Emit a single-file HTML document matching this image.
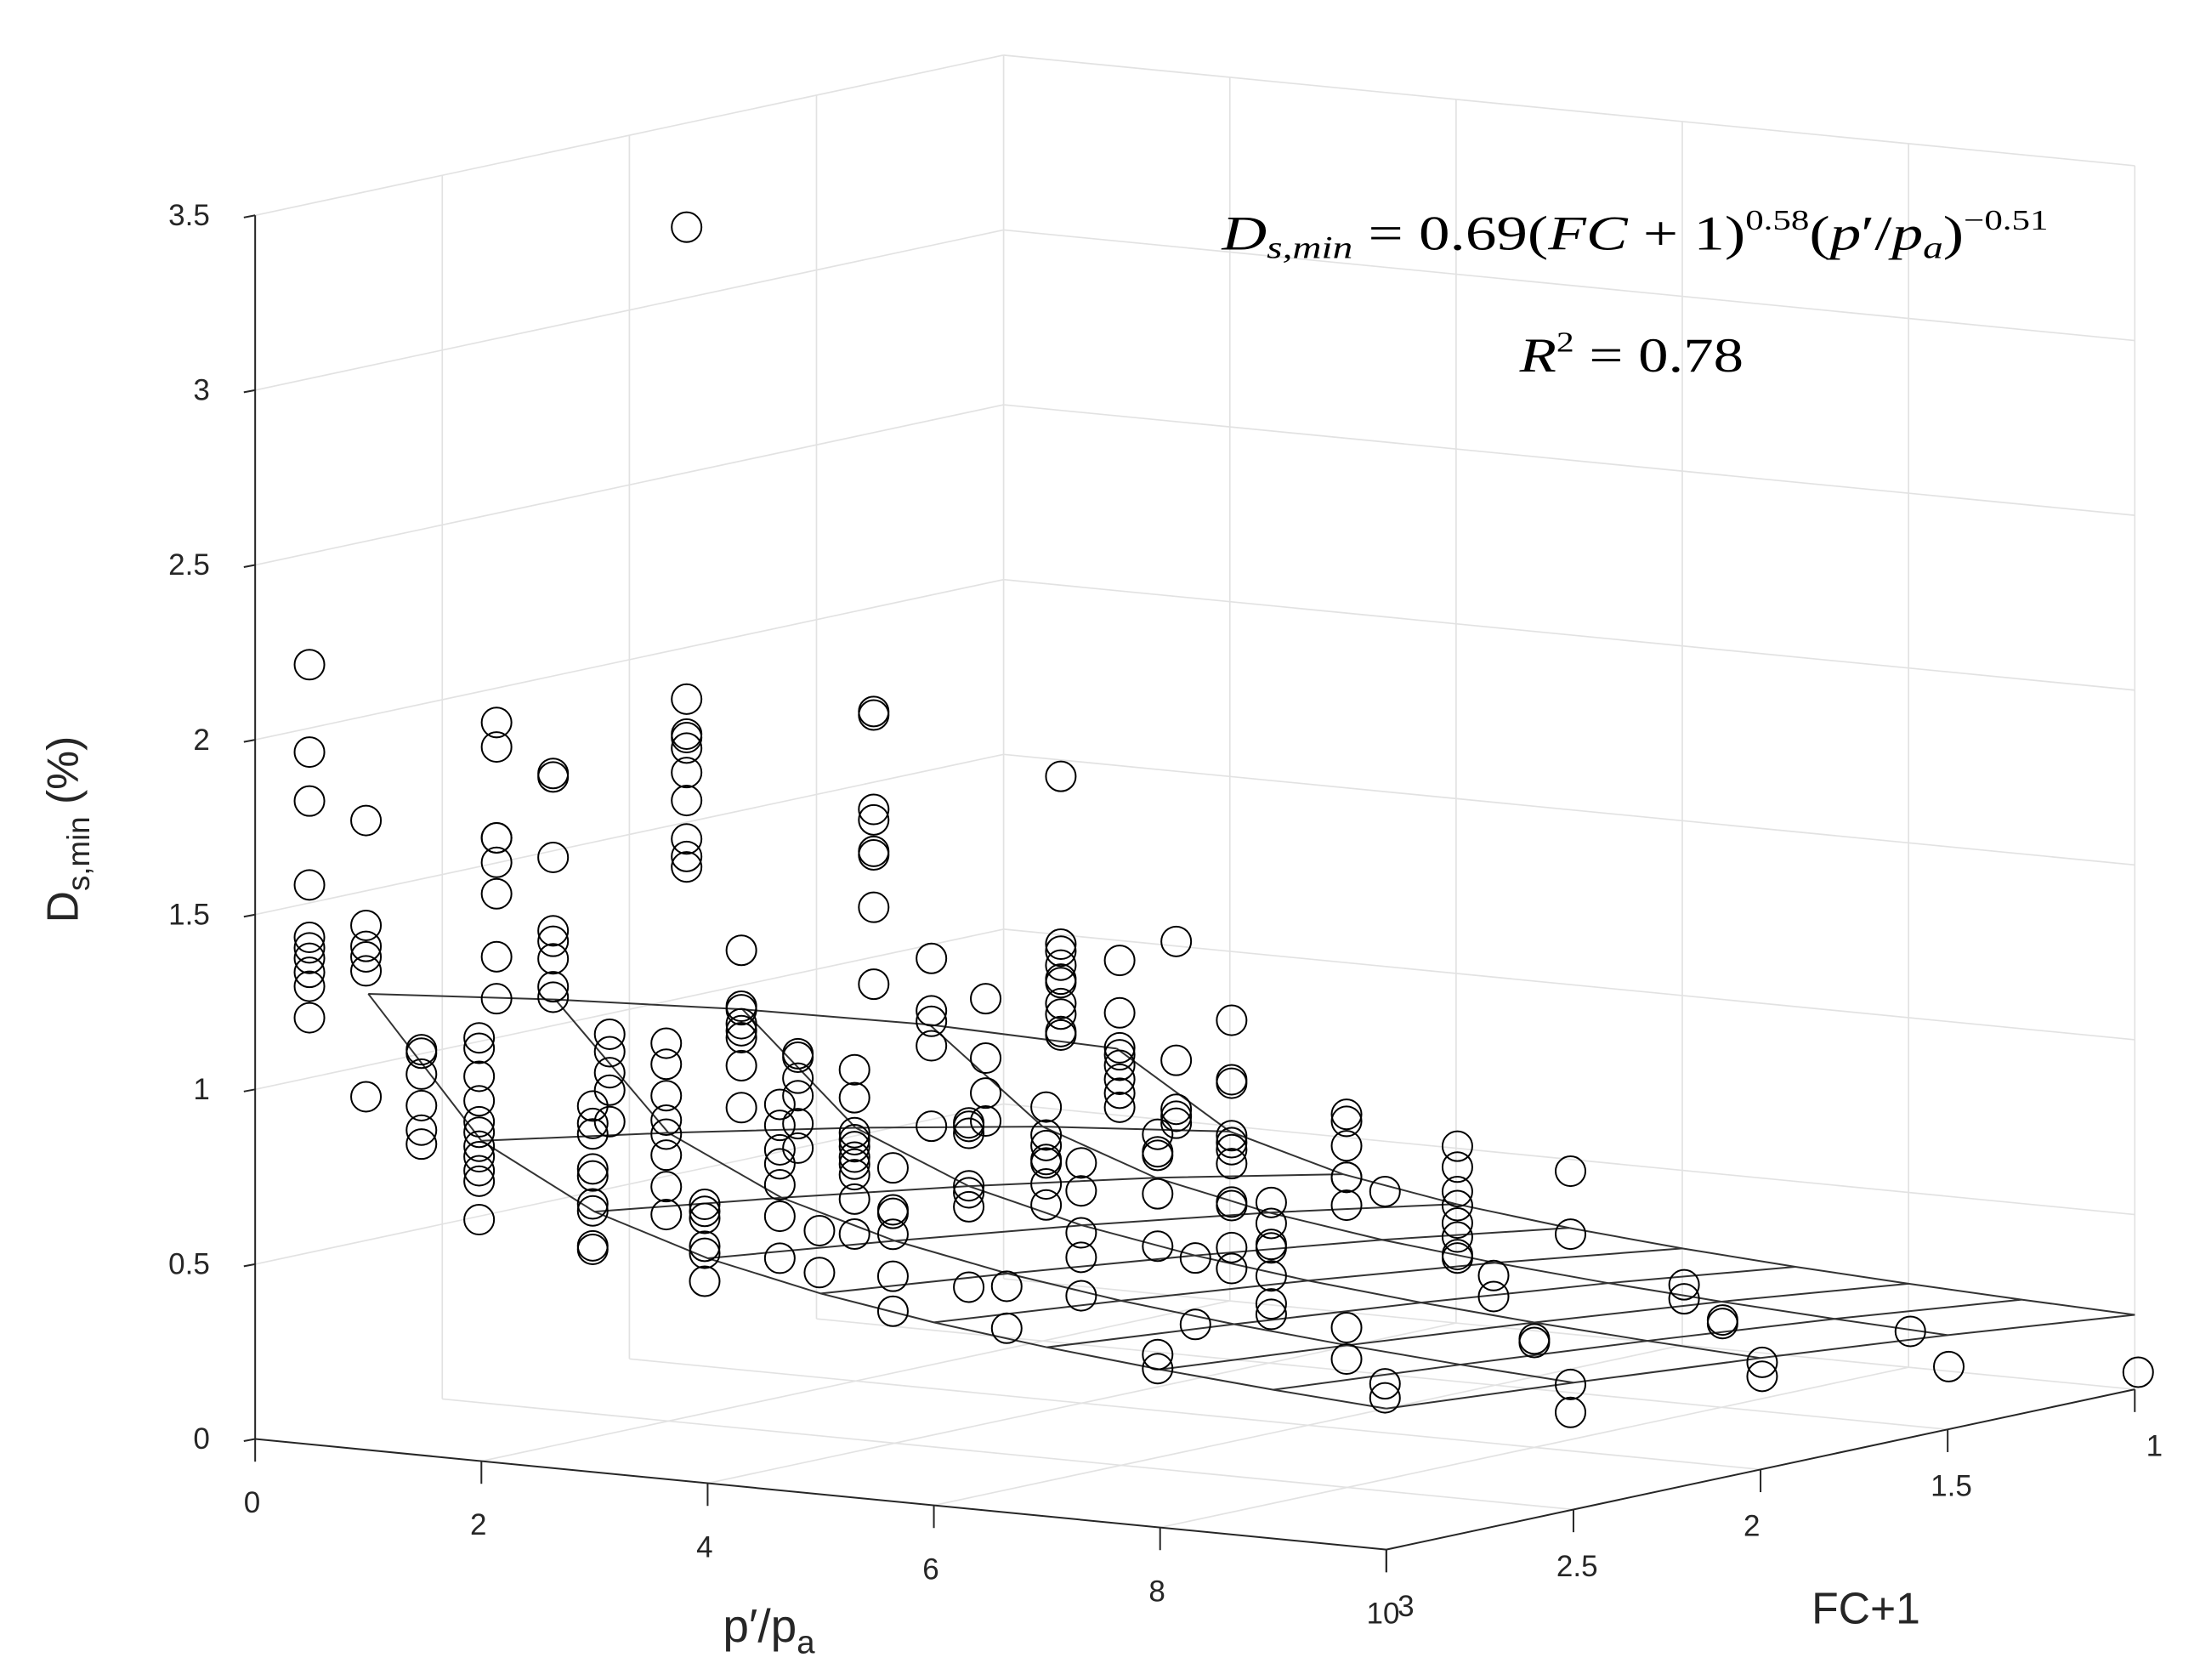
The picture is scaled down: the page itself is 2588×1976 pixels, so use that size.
<!DOCTYPE html>
<html><head><meta charset="utf-8"><style>
html,body{margin:0;padding:0;background:#fff;}
svg{display:block;}
text{font-family:"Liberation Sans",sans-serif;fill:#262626;}
</style></head>
<body>
<svg id="chart" width="2588" height="1976" viewBox="0 0 1552 1185" xmlns="http://www.w3.org/2000/svg">
<g id="grid"></g>
<g id="axes"></g>
<g id="surface"></g>
<g id="points"></g>
<text transform="translate(55,585) rotate(-90)" text-anchor="middle" font-size="31">D<tspan font-size="22" dy="8">s,min</tspan><tspan dy="-8"> (%)</tspan></text>
<text x="510" y="1158" font-size="33">p′/p<tspan font-size="23" dy="8">a</tspan></text>
<text x="1278" y="1145" font-size="31">FC+1</text>
<text x="862" y="176" font-size="34" textLength="583" lengthAdjust="spacingAndGlyphs" style="font-family:'Liberation Serif',serif;fill:#000"><tspan font-style="italic">D</tspan><tspan font-style="italic" font-size="22" dy="6">s,min</tspan><tspan dy="-6"> = 0.69(</tspan><tspan font-style="italic">FC</tspan><tspan> + 1)</tspan><tspan font-size="20" dy="-14">0.58</tspan><tspan dy="14">(</tspan><tspan font-style="italic">p</tspan><tspan>′/</tspan><tspan font-style="italic">p</tspan><tspan font-style="italic" font-size="22" dy="6">a</tspan><tspan dy="-6">)</tspan><tspan font-size="20" dy="-14">−0.51</tspan></text>
<text x="1072" y="262" font-size="34" textLength="158" lengthAdjust="spacingAndGlyphs" style="font-family:'Liberation Serif',serif;fill:#000"><tspan font-style="italic">R</tspan><tspan font-size="20" dy="-14">2</tspan><tspan dy="14"> = 0.78</tspan></text>
</svg>
<script>
// data columns: each column has one p′/pa value, one FC+1 value, several D values
const colP  = [0.48,0.98,1.47,1.98, 0.48,0.98,1.33,1.48,1.98,2.16,2.32, 0.99,1.33,1.49,1.68,1.99,2.16,2.33,2.67,3.00,3.15, 4.99,2.03,2.16,2.34,2.68,4.67,3.18,3.35,3.67,4.02, 6.34,6.68,7.32,7.64,8.00,8.32, 7.67,8.01,8.36,9.67,10.01, 10.03];
const colFC = [3,3,3,3, 2.5,2.5,2.5,2.5,2.5,2.5,2.5, 2,2,2,2,2,2,2,2,2,2, 2.5,1.5,1.5,1.5,1.5,2,1.5,1.5,1.5,1.5, 2,2,2,2,2,2, 1.5,1.5,1.5,1.5,1.5, 1];
const colD = [
 [2.23,1.98,1.84,1.60,1.45,1.42,1.39,1.35,1.31,1.22],
 [1.80,1.50,1.44,1.41,1.37,1.01],
 [1.16,1.15,1.09,1.00,0.93,0.89],
 [1.21,1.18,1.10,1.03,0.97,0.94,0.90,0.87,0.83,0.80,0.69],
 [1.95,1.88,1.62,1.62,1.55,1.46,1.28,1.16],
 [1.82,1.81,1.58,1.37,1.34,1.29,1.21,1.18],
 [0.88,0.83,0.80,0.70,0.68,0.60,0.58,0.48,0.47],
 [1.09,1.04,0.98,0.93,0.84],
 [1.08,1.02,0.93,0.86,0.82,0.76,0.67,0.59],
 [3.42,2.07,1.97,1.96,1.93,1.86,1.78,1.67,1.62,1.59],
 [0.63,0.61,0.59,0.51,0.49,0.41],
 [1.20,1.04,1.03,0.99,0.97,0.95,0.87,0.75],
 [0.77,0.71,0.64,0.60,0.54,0.45,0.33],
 [0.92,0.91,0.85,0.80,0.72,0.65],
 [0.42,0.30],
 [0.89,0.81,0.71,0.69,0.67,0.64,0.62,0.59,0.52,0.42],
 [1.92,1.91,1.64,1.61,1.52,1.51,1.36,1.14],
 [0.62,0.50,0.49,0.43,0.31,0.21],
 [1.23,1.08,1.05,0.98,0.75],
 [0.77,0.76,0.74,0.59,0.57,0.53,0.30],
 [1.13,0.96,0.86,0.78],
 [0.48,0.36],
 [0.67,0.59,0.56,0.52,0.51,0.45,0.39],
 [1.62,1.14,1.12,1.08,1.04,1.03,0.97,0.94,0.89,0.88],
 [0.52,0.44,0.32,0.25,0.14],
 [1.11,0.96,0.86,0.84,0.81,0.77,0.73,0.69],
 [0.79,0.74,0.73,0.62,0.47,0.16,0.12],
 [1.18,0.84,0.70,0.68,0.66],
 [0.28,0.09],
 [0.97,0.80,0.79,0.64,0.62,0.60,0.56,0.45,0.44,0.32,0.26],
 [0.46,0.40,0.34,0.33,0.25,0.17,0.14],
 [0.90,0.88,0.81,0.72,0.72,0.64,0.29,0.20],
 [0.69,0.14,0.10],
 [0.84,0.78,0.71,0.67,0.62,0.58,0.53,0.52],
 [0.48,0.42],
 [0.31,0.30],
 [0.80,0.62,0.19,0.11],
 [0.34,0.30],
 [0.25,0.24],
 [0.14,0.10],
 [0.27],
 [0.18],
 [0.05]
];
const zTicks = [0,0.5,1,1.5,2,2.5,3,3.5];
const zTickLabels = ["0","0.5","1","1.5","2","2.5","3","3.5"];
const pTicks = [0,2,4,6,8,10];
const pTickLabels = ["0","2","4","6","8","10"];
const fcTicks = [1,1.5,2,2.5,3];
const fcTickLabels = ["1","1.5","2","2.5","3"];
const fitA = 0.69, fitB = 0.58, fitC = -0.51;
const meshP = [1,2,3,4,5,6,7,8,9,10];
const meshFC = [1,1.5,2,2.5,3];

const NS = "http://www.w3.org/2000/svg";
function proj(p, fc, d) {
  return [180 + 79.8*p - 264*(fc-3), 1015 + 7.8*p + 56.5*(fc-3) - 246.6*d];
}
function mk(tag, attrs, parent) {
  const el = document.createElementNS(NS, tag);
  for (const k in attrs) el.setAttribute(k, attrs[k]);
  parent.appendChild(el);
  return el;
}
function line(a, b, stroke, w, parent, name) {
  const el = mk('line', {x1:a[0], y1:a[1], x2:b[0], y2:b[1], stroke:stroke, 'stroke-width':w}, parent);
  
  
  return el;
}
const grid = document.getElementById('grid');
const axes = document.getElementById('axes');
const gc = '#e2e2e2';
zTicks.forEach(z => {
  if (z > 0) {
    line(proj(0,3,z), proj(0,1,z), gc, 1, grid, 'left-wall-gridline');
    line(proj(0,1,z), proj(10,1,z), gc, 1, grid, 'back-wall-gridline');
  }
});
fcTicks.forEach(f => {
  if (f < 3) {
    line(proj(0,f,0), proj(0,f,3.5), gc, 1, grid, 'left-wall-vertical-gridline');
    line(proj(0,f,0), proj(10,f,0), gc, 1, grid, 'floor-gridline');
  }
});
pTicks.forEach(p => {
  if (p > 0) {
    line(proj(p,1,0), proj(p,1,3.5), gc, 1, grid, 'back-wall-vertical-gridline');
    line(proj(p,3,0), proj(p,1,0), gc, 1, grid, 'floor-gridline');
  }
});
const ac = '#262626';
line(proj(0,3,0), proj(0,3,3.5), ac, 1.2, axes, 'z-axis-line');
line(proj(0,3,0), proj(10,3,0), ac, 1.2, axes, 'x-axis-line');
line(proj(10,3,0), proj(10,1,0), ac, 1.2, axes, 'y-axis-line');
zTicks.forEach((z,i) => {
  const a = proj(0,3,z);
  line(a, [a[0]-8, a[1]+1.5], ac, 1.2, axes, 'z-tick');
  const t = mk('text', {x:a[0]-32, y:a[1]+7, 'text-anchor':'end', 'font-size':21}, axes);
  
  
  t.textContent = zTickLabels[i];
});
pTicks.forEach((p,i) => {
  const a = proj(p,3,0);
  line(a, [a[0], a[1]+16], ac, 1.2, axes, 'x-tick');
  const t = mk('text', {x:a[0]-8+(i===5?-6:0), y:a[1]+52, 'text-anchor':'start', 'font-size':21}, axes);
  
  
  t.textContent = pTickLabels[i];
});
fcTicks.forEach((f,i) => {
  const a = proj(10,f,0);
  line(a, [a[0], a[1]+16], ac, 1.2, axes, 'y-tick');
  const t = mk('text', {x:a[0]+(f===3?8:(f===1?8:-12)), y:a[1]+47, 'text-anchor':'start', 'font-size':21}, axes);
  
  
  t.textContent = fcTickLabels[i];
});
const surf = document.getElementById('surface');
function fit(p, f) { return fitA * Math.pow(f, fitB) * Math.pow(p, fitC); }
meshFC.forEach(f => {
  const pts = meshP.map(p => proj(p, f, fit(p, f)).join(',')).join(' ');
  const el = mk('polyline', {points:pts, fill:'none', stroke:'#333', 'stroke-width':1.2}, surf);
  
  
});
meshP.forEach(p => {
  const pts = meshFC.map(f => proj(p, f, fit(p, f)).join(',')).join(' ');
  const el = mk('polyline', {points:pts, fill:'none', stroke:'#333', 'stroke-width':1.2}, surf);
  
  
});
const pg = document.getElementById('points');
colD.forEach((ds, ci) => {
  ds.forEach(d => {
    const a = proj(colP[ci], colFC[ci], d);
    const c = mk('circle', {cx:a[0], cy:a[1], r:10.5, fill:'none', stroke:'#000', 'stroke-width':1.2}, pg);
    
    
  });
});
</script>
</body></html>
